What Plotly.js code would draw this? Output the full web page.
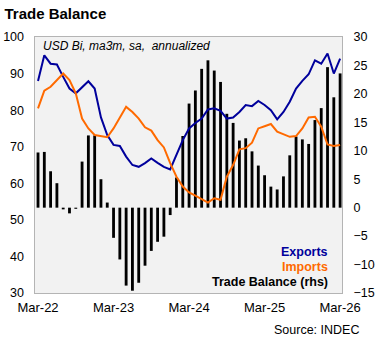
<!DOCTYPE html>
<html><head><meta charset="utf-8">
<script src="https://cdn.plot.ly/plotly-3.0.1.min.js"></script>
<style>html,body{margin:0;padding:0;background:#fff}#chart{width:375px;height:338px}</style>
</head><body><div id="chart"></div>
<script>
const months = ["Mar-22","Apr-22","May-22","Jun-22","Jul-22","Aug-22","Sep-22","Oct-22","Nov-22","Dec-22","Jan-23","Feb-23",
"Mar-23","Apr-23","May-23","Jun-23","Jul-23","Aug-23","Sep-23","Oct-23","Nov-23","Dec-23","Jan-24","Feb-24",
"Mar-24","Apr-24","May-24","Jun-24","Jul-24","Aug-24","Sep-24","Oct-24","Nov-24","Dec-24","Jan-25","Feb-25",
"Mar-25","Apr-25","May-25","Jun-25","Jul-25","Aug-25","Sep-25","Oct-25","Nov-25","Dec-25","Jan-26","Feb-26","Mar-26"];
const exportsV = [88.0,95.0,92.7,92.5,89.1,85.9,84.6,86.2,87.9,85.9,78.0,73.2,
70.5,70.2,67.3,65.0,64.5,65.5,66.8,65.6,64.5,63.8,68.0,71.8,
75.0,76.5,77.7,80.2,80.5,79.8,77.7,78.0,79.5,81.4,81.1,82.5,
81.4,80.0,77.5,79.5,82.3,85.9,88.0,89.8,93.6,92.7,95.5,90.0,94.1];
const importsV = [80.5,85.3,86.4,88.2,90.0,88.2,84.6,77.7,75.0,73.2,72.9,72.6,
75.0,78.0,80.9,79.5,77.7,75.3,74.4,71.8,69.8,65.5,61.8,59.1,
57.5,56.6,55.6,54.7,55.9,55.5,61.8,65.0,69.3,69.6,71.1,75.0,
75.6,76.2,74.1,73.5,72.7,72.9,75.0,78.0,78.2,75.5,70.6,70.2,70.5];
const balanceV = [9.7,9.8,6.4,4.3,-0.3,-1.0,-0.2,8.1,12.7,12.7,5.0,0.9,
-5.3,-9.1,-13.7,-14.6,-13.2,-10.2,-7.6,-6.0,-5.1,-1.3,5.3,12.6,
18.3,20.6,24.4,25.9,24.1,22.1,16.5,14.9,11.8,12.2,9.9,7.4,
5.7,3.7,3.2,5.5,9.2,12.5,12.0,11.2,15.4,17.5,24.7,19.4,23.6];
const tickLabels = ["Mar-22","Mar-23","Mar-24","Mar-25","Mar-26"];

const idx = months.map((_, i) => i);
const tickVals = tickLabels.map(t => months.indexOf(t));
const F = "Liberation Sans, Arial, sans-serif";

const traces = [
  {x: idx, y: balanceV, type: 'bar', yaxis: 'y', marker: {color: '#000000'}, width: 0.45, name: 'Trade Balance (rhs)', hoverinfo: 'none'},
  {x: idx, y: exportsV, type: 'scatter', mode: 'lines', yaxis: 'y2', line: {color: '#00009c', width: 2}, name: 'Exports'},
  {x: idx, y: importsV, type: 'scatter', mode: 'lines', yaxis: 'y2', line: {color: '#ff6a00', width: 2}, name: 'Imports'}
];

const layout = {
  width: 375, height: 338,
  margin: {l: 35, r: 33, t: 37, b: 45},
  paper_bgcolor: '#ffffff', plot_bgcolor: '#f2f2f2',
  showlegend: false,
  title: {text: '<b>Trade Balance</b>', font: {family: F, size: 15, color: '#000'}, x: 0.012, xanchor: 'left', y: 0.96, yanchor: 'middle'},
  xaxis: {range: [-0.48, 48.3], tickvals: tickVals, ticktext: tickLabels, showgrid: false, zeroline: false,
          showline: true, mirror: true, linecolor: '#b4b4b4', linewidth: 1, ticks: '', ticklabelstandoff: 2,
          tickfont: {family: F, size: 13, color: '#000'}},
  yaxis: {range: [-15, 30], dtick: 5, side: 'right', showgrid: false, zeroline: false,
          showline: true, mirror: true, linecolor: '#b4b4b4', ticks: '', ticklabelstandoff: 8,
          tickfont: {family: F, size: 12.5, color: '#000'}},
  yaxis2: {range: [30, 100], dtick: 10, side: 'left', overlaying: 'y', showgrid: false, zeroline: false,
           showline: false, ticks: '', ticklabelstandoff: 10,
           tickfont: {family: F, size: 12.5, color: '#000'}},
  annotations: [
    {text: '<i>USD Bi, ma3m, sa,  annualized</i>', xref: 'paper', yref: 'paper', x: 0.018, y: 0.965, xanchor: 'left', yanchor: 'middle', showarrow: false, font: {family: F, size: 12, color: '#000'}},
    {text: '<b>Exports</b>', xref: 'paper', yref: 'paper', x: 0.96, y: 0.162, xanchor: 'right', yanchor: 'middle', showarrow: false, font: {family: F, size: 12.5, color: '#00009c'}},
    {text: '<b>Imports</b>', xref: 'paper', yref: 'paper', x: 0.96, y: 0.101, xanchor: 'right', yanchor: 'middle', showarrow: false, font: {family: F, size: 12.5, color: '#ff6a00'}},
    {text: '<b>Trade Balance (rhs)</b>', xref: 'paper', yref: 'paper', x: 0.96, y: 0.043, xanchor: 'right', yanchor: 'middle', showarrow: false, font: {family: F, size: 12.5, color: '#000'}},
    {text: 'Source: INDEC', xref: 'paper', yref: 'paper', x: 1.062, y: -0.143, xanchor: 'right', yanchor: 'middle', showarrow: false, font: {family: F, size: 12.5, color: '#000'}}
  ]
};
Plotly.newPlot('chart', traces, layout, {displayModeBar: false, staticPlot: true});
</script></body></html>
